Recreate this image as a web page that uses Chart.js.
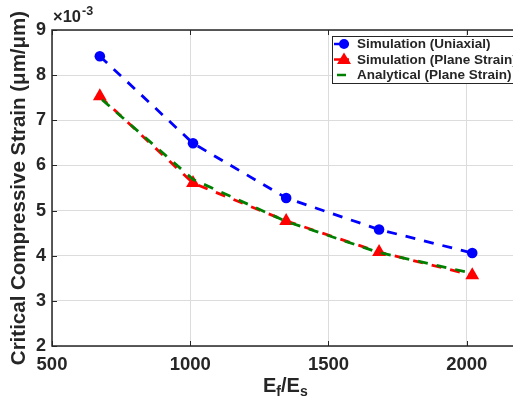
<!DOCTYPE html>
<html>
<head>
<meta charset="utf-8">
<script src="https://cdn.jsdelivr.net/npm/chart.js@4"></script>
<style>
  html, body { margin: 0; padding: 0; background: #fff; overflow: hidden; }
  #wrap { width: 513px; height: 405px; overflow: hidden; }
</style>
</head>
<body>
<div id="wrap"><canvas id="grafico" width="530" height="405"></canvas></div>
<script>
// Valores del módulo relativo y deformaciones críticas (x10^-3)
const ratios = [673, 1010, 1347, 1683, 2020];
const simUniaxial = [8.42, 6.49, 5.28, 4.58, 4.06];
const simPlane = [7.53, 5.61, 4.77, 4.08, 3.57];
const analiticoPlane = [7.50, 5.69, 4.76, 4.07, 3.61];
const xTicks = [500, 1000, 1500, 2000];
const yTicks = [2, 3, 4, 5, 6, 7, 8, 9];
const etiquetas = ['Simulation (Uniaxial)', 'Simulation (Plane Strain)', 'Analytical (Plane Strain)'];

const FUENTE = '"Liberation Sans", Arial, sans-serif';
const TINTA = '#262626';

function puntos(ys) {
    return ratios.map((x, i) => ({ x: x, y: ys[i] }));
}

// Marco, marcas interiores, títulos y leyenda al estilo MATLAB
const decoracion = {
    id: 'decoracion',
    afterDraw(chart) {
        const ctx = chart.ctx;
        const a = chart.chartArea;
        const sx = chart.scales.x;
        const sy = chart.scales.y;
        ctx.save();

        // marco de ejes
        ctx.strokeStyle = TINTA;
        ctx.lineWidth = 1.5;
        ctx.strokeRect(a.left, a.top, a.right - a.left, a.bottom - a.top);

        // marcas hacia dentro
        ctx.lineWidth = 1;
        ctx.beginPath();
        xTicks.forEach(v => {
            const px = Math.round(sx.getPixelForValue(v)) + 0.5;
            ctx.moveTo(px, a.bottom); ctx.lineTo(px, a.bottom - 5);
            ctx.moveTo(px, a.top); ctx.lineTo(px, a.top + 5);
        });
        yTicks.forEach(v => {
            const py = Math.round(sy.getPixelForValue(v)) + 0.5;
            ctx.moveTo(a.left, py); ctx.lineTo(a.left + 5, py);
        });
        ctx.stroke();

        ctx.fillStyle = TINTA;

        // multiplicador del eje y
        ctx.textBaseline = 'alphabetic';
        ctx.textAlign = 'left';
        ctx.font = 'bold 16.5px ' + FUENTE;
        ctx.fillText('×10', 53, 22);
        const w = ctx.measureText('×10').width;
        ctx.font = 'bold 12.5px ' + FUENTE;
        ctx.fillText('-3', 53 + w + 1, 15);

        // título eje y
        ctx.save();
        ctx.translate(19, 188);
        ctx.rotate(-Math.PI / 2);
        ctx.textAlign = 'center';
        ctx.textBaseline = 'middle';
        ctx.font = 'bold 20.5px ' + FUENTE;
        ctx.fillText('Critical Compressive Strain (μm/μm)', 0, 0);
        ctx.restore();

        // título eje x con subíndices
        const partes = [
            { t: 'E', f: 20, dy: 0 },
            { t: 'f', f: 14, dy: 4 },
            { t: '/E', f: 20, dy: 0 },
            { t: 's', f: 14, dy: 4 }
        ];
        let cx = 263;
        ctx.textAlign = 'left';
        partes.forEach(p => {
            ctx.font = 'bold ' + p.f + 'px ' + FUENTE;
            ctx.fillText(p.t, cx, 392 + p.dy);
            cx += ctx.measureText(p.t).width;
        });

        // leyenda
        const lx = 332, ly = 36, lw = 200, lh = 47;
        ctx.fillStyle = '#fff';
        ctx.fillRect(lx, ly, lw, lh);
        ctx.strokeStyle = TINTA;
        ctx.lineWidth = 1;
        ctx.strokeRect(lx + 0.5, ly + 0.5, lw, lh);

        const filas = [44, 59.5, 75];
        ctx.lineWidth = 2.5;
        // uniaxial
        ctx.strokeStyle = '#0000ff';
        ctx.fillStyle = '#0000ff';
        ctx.beginPath(); ctx.moveTo(334, filas[0]); ctx.lineTo(349, filas[0]); ctx.stroke();
        ctx.beginPath(); ctx.arc(344, filas[0], 5, 0, Math.PI * 2); ctx.fill();
        // deformación plana simulada
        ctx.strokeStyle = '#ff0000';
        ctx.fillStyle = '#ff0000';
        ctx.beginPath(); ctx.moveTo(334, filas[1]); ctx.lineTo(349, filas[1]); ctx.stroke();
        ctx.beginPath();
        ctx.moveTo(344, filas[1] - 7);
        ctx.lineTo(351, filas[1] + 4.5);
        ctx.lineTo(337, filas[1] + 4.5);
        ctx.closePath(); ctx.fill();
        // analítica
        ctx.strokeStyle = '#008000';
        ctx.beginPath(); ctx.moveTo(337, filas[2]); ctx.lineTo(346, filas[2]); ctx.stroke();

        ctx.fillStyle = TINTA;
        ctx.font = 'bold 13.5px ' + FUENTE;
        ctx.textBaseline = 'middle';
        etiquetas.forEach((t, i) => ctx.fillText(t, 357, filas[i] + 0.5));

        ctx.restore();
    }
};

const ctxGrafico = document.getElementById('grafico').getContext('2d');
const grafico = new Chart(ctxGrafico, {
    type: 'line',
    data: {
        datasets: [
            {
                label: etiquetas[0],
                data: puntos(simUniaxial),
                borderColor: '#0000ff',
                backgroundColor: '#0000ff',
                borderWidth: 2.8,
                borderDash: [10, 9],
                pointStyle: 'circle',
                pointRadius: 5.3,
                pointBorderWidth: 0,
                tension: 0
            },
            {
                label: etiquetas[1],
                data: puntos(simPlane),
                borderColor: '#ff0000',
                backgroundColor: '#ff0000',
                borderWidth: 2.8,
                borderDash: [10, 9],
                pointStyle: 'triangle',
                pointRadius: 8,
                pointBorderWidth: 0,
                tension: 0,
                order: 1
            },
            {
                label: etiquetas[2],
                data: puntos(analiticoPlane),
                borderColor: '#008000',
                backgroundColor: '#008000',
                borderWidth: 2.8,
                borderDash: [10, 9],
                borderDashOffset: 16,
                pointRadius: 0,
                tension: 0,
                order: 0
            }
        ]
    },
    options: {
        responsive: false,
        animation: false,
        layout: { padding: { top: 30, right: 7, left: 0, bottom: 0 } },
        plugins: {
            legend: { display: false },
            tooltip: { enabled: false }
        },
        elements: { line: { fill: false } },
        scales: {
            x: {
                type: 'linear',
                min: 500,
                max: 2200,
                afterBuildTicks: s => { s.ticks = xTicks.map(v => ({ value: v })); },
                afterFit: s => { s.height = 59; },
                grid: { color: '#dcdcdc', lineWidth: 1, drawTicks: false },
                border: { display: false },
                ticks: {
                    color: TINTA,
                    padding: 8,
                    maxRotation: 0,
                    callback: v => String(v),
                    font: { family: FUENTE, size: 18.5, weight: 'bold' }
                }
            },
            y: {
                type: 'linear',
                min: 2,
                max: 9,
                afterBuildTicks: s => { s.ticks = yTicks.map(v => ({ value: v })); },
                afterFit: s => { s.width = 52; },
                grid: { color: '#dcdcdc', lineWidth: 1, drawTicks: false },
                border: { display: false },
                ticks: {
                    color: TINTA,
                    padding: 6,
                    callback: v => String(v),
                    font: { family: FUENTE, size: 18, weight: 'bold' }
                }
            }
        }
    },
    plugins: [decoracion]
});
</script>
</body>
</html>
